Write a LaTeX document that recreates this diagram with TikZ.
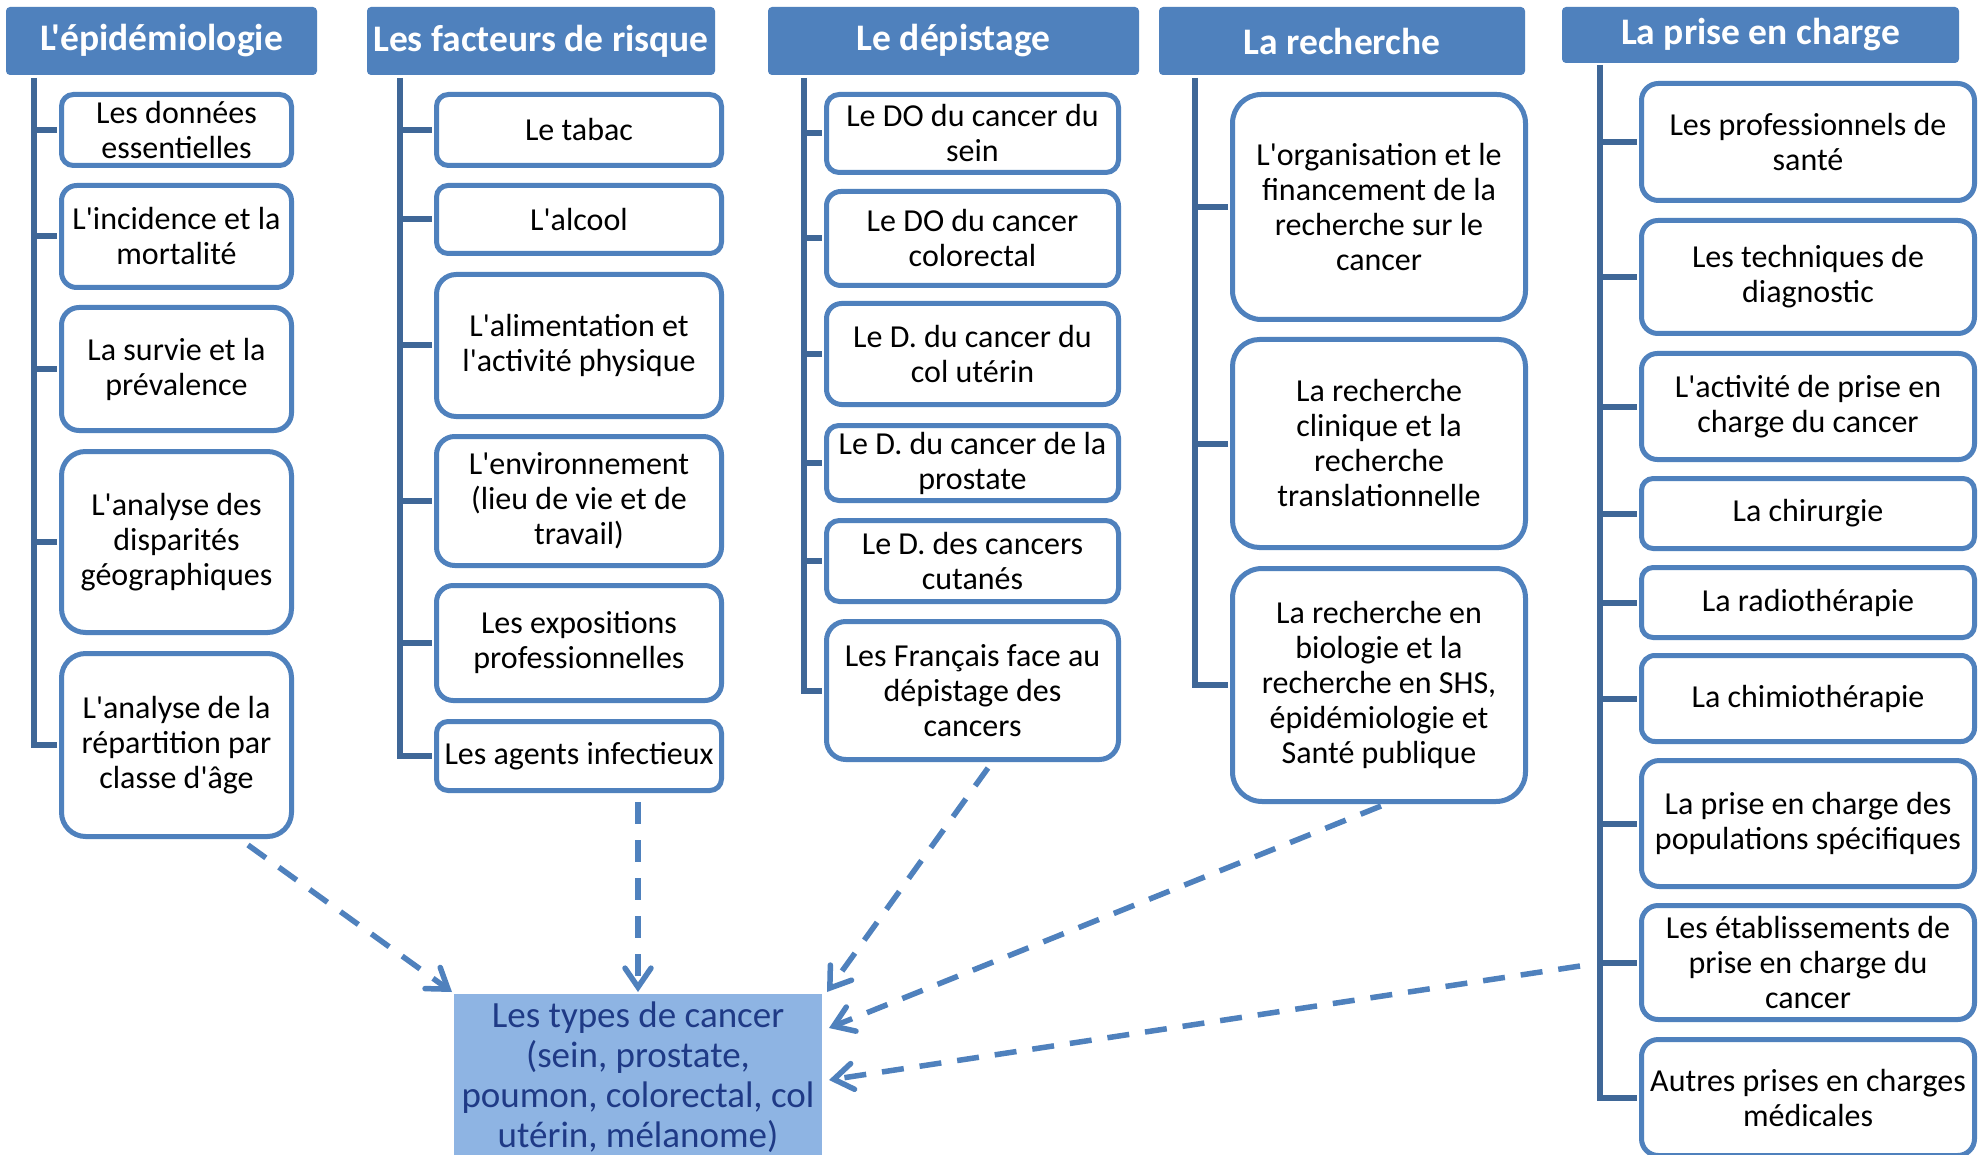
\documentclass[tikz,border=0pt]{standalone}
\usepackage{fontspec}
\newfontfamily\carlito{Carlito}
\usetikzlibrary{arrows.meta}
\definecolor{hdrC}{HTML}{4F81BD}
\definecolor{bordC}{HTML}{4F81BD}
\definecolor{treeC}{HTML}{3F6797}
\definecolor{arrC}{HTML}{4F81BD}
\definecolor{ctrF}{HTML}{8EB4E3}
\definecolor{ctrT}{HTML}{1F3A86}
\tikzset{
  hdrbox/.style={fill=hdrC, rounded corners=4pt, text=white, inner sep=0pt,
    font=\carlito\bfseries\fontsize{37.5}{40}\selectfont},
  itembox/.style={draw=bordC, line width=5pt, fill=white, align=center, inner sep=0pt,
    font=\carlito\fontsize{32}{35}\selectfont},
  treeline/.style={draw=treeC, line width=6pt},
  dasharrow/.style={draw=arrC, line width=5.5pt, dash pattern=on 22pt off 16pt,
    -{Straight Barb[length=19pt,width=26pt,line cap=round]}},
  ctrbox/.style={fill=ctrF, text=ctrT, align=center, inner sep=0pt,
    font=\carlito\fontsize{37}{40}\selectfont}
}
% box: name, x1, y1, x2, y2, text
\newcommand\ibox[6]{%
  \pgfmathsetmacro\mybw{#4-#2-5}\pgfmathsetmacro\mybh{#5-#3-5}%
  \pgfmathsetmacro\mybx{(#2+#4)/2}\pgfmathsetmacro\myby{(#3+#5)/2}%
  \pgfmathsetmacro\mybr{0.11*min(\mybw,\mybh)+4}%
  \node[itembox, rounded corners=\mybr pt, minimum width=\mybw pt, minimum height=\mybh pt] (#1) at (\mybx,\myby) {#6};}
\newcommand\hdrnode[6]{%
  \pgfmathsetmacro\mybw{#4-#2}\pgfmathsetmacro\mybh{#5-#3}%
  \pgfmathsetmacro\mybx{(#2+#4)/2}\pgfmathsetmacro\myby{(#3+#5)/2}%
  \node[hdrbox, minimum width=\mybw pt, minimum height=\mybh pt] (#1) at (\mybx,\myby) {#6};}
\begin{document}
\begin{tikzpicture}[x=1pt,y=-1pt]
\useasboundingbox (0,0) rectangle (1978,1155);
\clip (0,0) rectangle (1978,1155);
\fill[white] (0,0) rectangle (1978,1155);

% headers
\hdrnode{h1}{6}{7}{317}{75}{L'épidémiologie}
\hdrnode{h2}{367}{7}{715}{75}{Les facteurs de risque}
\hdrnode{h3}{768}{7}{1139}{75}{Le dépistage}
\hdrnode{h4}{1159}{7}{1525}{75}{La recherche}
\hdrnode{h5}{1562}{7}{1959}{63}{La prise en charge}

% column 1
\ibox{e1}{59}{92}{294}{168}{Les données\\essentielles}
\ibox{e2}{59}{183}{294}{290}{L'incidence et la\\mortalité}
\ibox{e3}{59}{305}{294}{433}{La survie et la\\prévalence}
\ibox{e4}{59}{449}{294}{635}{L'analyse des\\disparités\\géographiques}
\ibox{e5}{59}{651}{294}{839}{L'analyse de la\\répartition par\\classe d'âge}

% column 2
\ibox{f1}{434}{92}{724}{168}{Le tabac}
\ibox{f2}{434}{183}{724}{256}{L'alcool}
\ibox{f3}{434}{272}{724}{419}{L'alimentation et\\l'activité physique}
\ibox{f4}{434}{434}{724}{568}{L'environnement\\(lieu de vie et de\\travail)}
\ibox{f5}{434}{583}{724}{703}{Les expositions\\professionnelles}
\ibox{f6}{434}{719}{724}{793}{Les agents infectieux}

% column 3
\ibox{d1}{824}{92}{1121}{175}{Le DO du cancer du\\sein}
\ibox{d2}{824}{189}{1121}{288}{Le DO du cancer\\colorectal}
\ibox{d3}{824}{301}{1121}{407}{Le D. du cancer du\\col utérin}
\ibox{d4}{824}{423}{1121}{503}{Le D. du cancer de la\\prostate}
\ibox{d5}{824}{518}{1121}{604}{Le D. des cancers\\cutanés}
\ibox{d6}{824}{619}{1121}{762}{Les Français face au\\dépistage des\\cancers}

% column 4
\ibox{r1}{1230}{92}{1528}{322}{L'organisation et le\\financement de la\\recherche sur le\\cancer}
\ibox{r2}{1230}{337}{1528}{550}{La recherche\\clinique et la\\recherche\\translationnelle}
\ibox{r3}{1230}{566}{1528}{804}{La recherche en\\biologie et la\\recherche en SHS,\\épidémiologie et\\Santé publique}

% column 5
\ibox{p1}{1639}{81}{1977}{203}{Les professionnels de\\santé}
\ibox{p2}{1639}{218}{1977}{336}{Les techniques de\\diagnostic}
\ibox{p3}{1639}{351}{1977}{462}{L'activité de prise en\\charge du cancer}
\ibox{p4}{1639}{476}{1977}{551}{La chirurgie}
\ibox{p5}{1639}{565}{1977}{640}{La radiothérapie}
\ibox{p6}{1639}{653}{1977}{744}{La chimiothérapie}
\ibox{p7}{1639}{758}{1977}{889}{La prise en charge des\\populations spécifiques}
\ibox{p8}{1639}{903}{1977}{1022}{Les établissements de\\prise en charge du\\cancer}
\ibox{p9}{1639}{1037}{1977}{1158}{Autres prises en charges\\médicales}

% tree lines
\coordinate (s1) at (34,78);
\coordinate (s2) at (400,78);
\coordinate (s3) at (804,78);
\coordinate (s4) at (1195,78);
\coordinate (s5) at (1600,65);
\begin{scope}[treeline, shorten >=2.5pt]
\draw (s1) |- (e5.west);
\foreach \b in {e1,e2,e3,e4} \draw (s1 |- \b.west) -- (\b.west);
\draw (s2) |- (f6.west);
\foreach \b in {f1,f2,f3,f4,f5} \draw (s2 |- \b.west) -- (\b.west);
\draw (s3) |- (d6.west);
\foreach \b in {d1,d2,d3,d4,d5} \draw (s3 |- \b.west) -- (\b.west);
\draw (s4) |- (r3.west);
\foreach \b in {r1,r2} \draw (s4 |- \b.west) -- (\b.west);
\draw (s5) |- (p9.west);
\foreach \b in {p1,p2,p3,p4,p5,p6,p7,p8} \draw (s5 |- \b.west) -- (\b.west);
\end{scope}

% central box
\node[ctrbox, minimum width=368pt, minimum height=166pt] (ctr) at (638,1077)
  {Les types de cancer\\(sein, prostate,\\poumon, colorectal, col\\utérin, mélanome)};

% arrows
\coordinate (a1) at (248,845);
\coordinate (a2) at (638,802);
\coordinate (a3) at (988,768);
\coordinate (a4) at (1381,806);
\coordinate (a5) at (1580,966);
\coordinate (t1) at (452,992);
\coordinate (t2) at (638,992);
\coordinate (t3) at (827,992);
\coordinate (t4) at (829,1028);
\coordinate (t5) at (829,1080);
\draw[dasharrow] (a1) -- (t1);
\draw[dasharrow] (a2) -- (t2);
\draw[dasharrow] (a3) -- (t3);
\draw[dasharrow] (a4) -- (t4);
\draw[dasharrow] (a5) -- (t5);
\end{tikzpicture}
\end{document}
